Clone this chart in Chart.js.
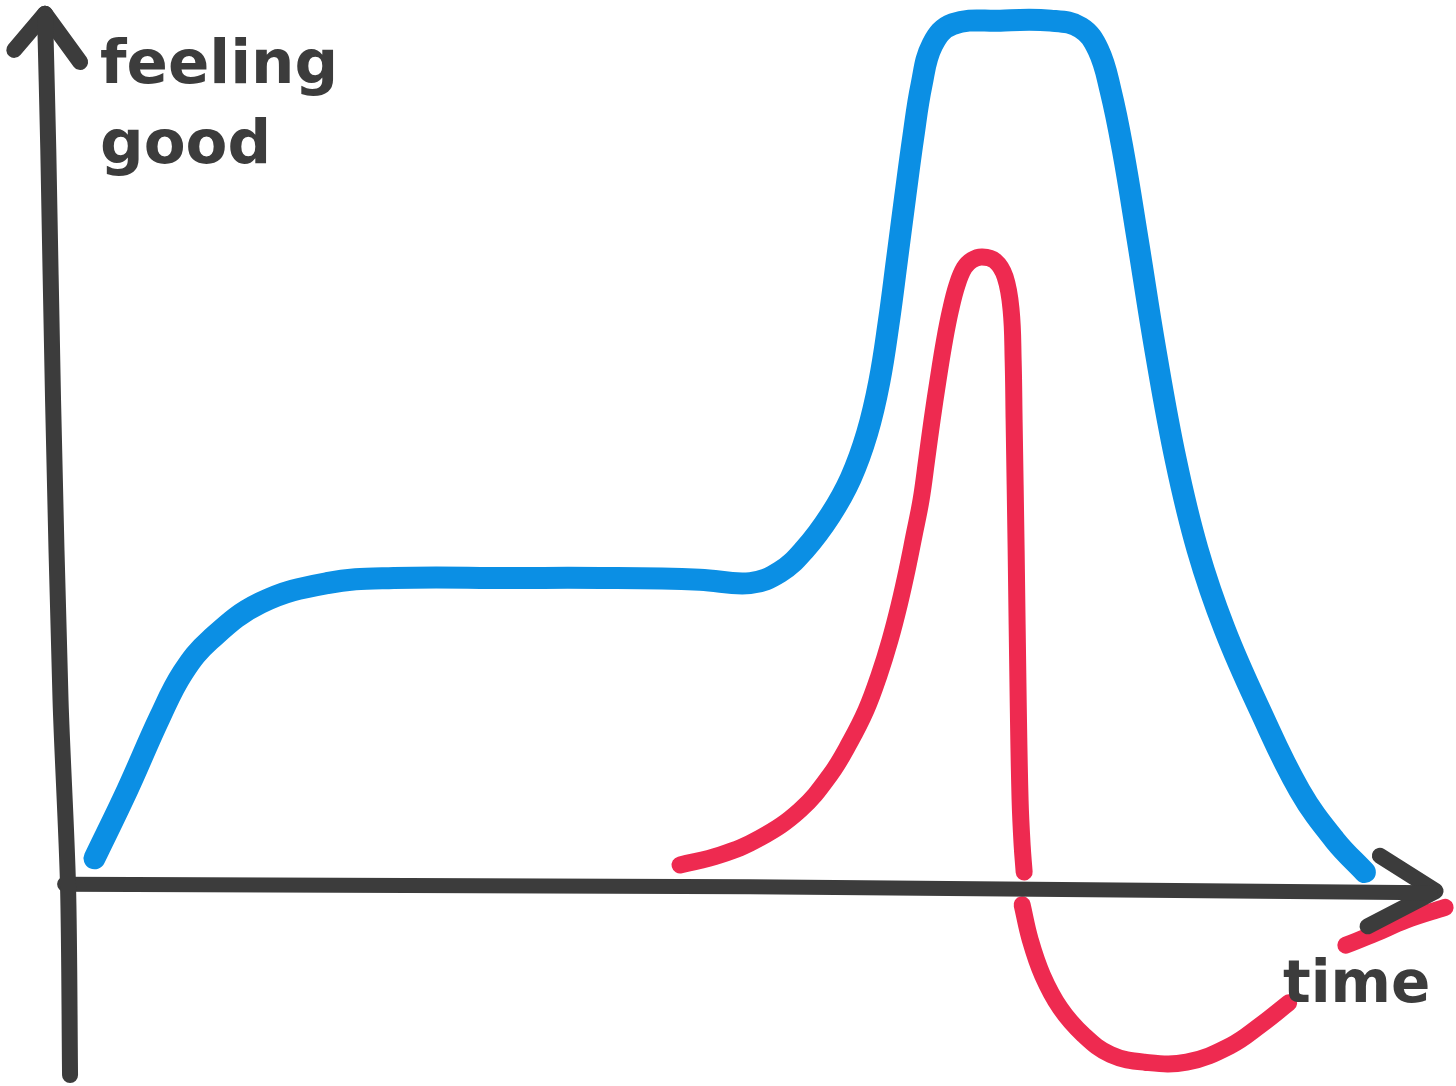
<!DOCTYPE html>
<html>
<head>
<meta charset="utf-8">
<title>feeling good over time</title>
<script src="https://cdn.jsdelivr.net/npm/chart.js@4.4.1/dist/chart.umd.min.js"></script>
<style>
  html, body { margin: 0; padding: 0; background: #ffffff; }
  #wrap { position: relative; width: 1456px; height: 1086px; }
</style>
</head>
<body>
<div id="wrap"><canvas id="sketch"></canvas></div>
<script>
// time runs 0..100 along the x axis, feeling good 0..100 up the y axis
const blueX = [1.8, 4.2, 6.6, 8.3, 10.3, 14.0, 18.9, 23.8, 32.4, 39.0, 46.3, 50.0, 52.2, 54.0, 55.9, 57.4, 58.6, 59.5, 60.2, 60.8, 61.4, 62.0, 62.6, 63.4, 64.9, 68.4, 72.1, 74.3, 75.6, 76.5, 77.4, 78.5, 79.8, 81.3, 82.9, 84.9, 87.5, 90.4, 93.0, 95.2];
const blueY = [3.1, 11.0, 19.5, 24.7, 28.5, 32.8, 35.1, 35.7, 35.7, 35.7, 35.5, 35.1, 36.4, 39.0, 43.0, 47.3, 52.5, 58.5, 65.5, 72.7, 80.0, 87.0, 93.0, 97.7, 100.1, 100.5, 100.5, 99.7, 97.1, 92.4, 85.5, 75.0, 62.2, 49.4, 39.0, 29.7, 20.3, 11.0, 5.2, 1.5];

// red line, null marks the breaks where the pen was lifted
const redX = [44.85, 47.79, 50.74, 53.68, 55.88, 57.35, 58.53, 59.49, 60.29, 60.96, 61.54, 62.06, 62.57, 62.98, 63.38, 63.82, 64.30, 64.74, 65.22, 65.74, 66.32, 67.06, 68.01, 68.75, 69.19, 69.34, 69.41, 69.56, 69.71, 69.85, 70.00, 70.15,
  70.15,
  70.0, 70.6, 71.5, 72.8, 74.5, 76.5, 79.0, 82.1, 85.3, 87.6, 89.6,
  91.5,
  93.8, 96.0, 98.2, 101.1];
const redY = [2.33, 3.49, 5.47, 8.72, 12.79, 16.63, 20.35, 24.42, 28.49, 32.56, 36.63, 40.70, 44.77, 49.42, 54.07, 58.72, 63.37, 66.86, 69.77, 71.74, 72.67, 73.02, 72.56, 70.70, 66.86, 61.05, 54.07, 38.95, 21.51, 9.88, 4.65, 1.51,
  null,
  -2.3, -6.4, -10.5, -14.3, -17.4, -19.7, -20.6, -20.6, -18.7, -16.2, -13.7,
  null,
  -7.0, -5.6, -4.1, -2.6];

// hand drawn axes
const timeAxisX = [-0.4, 50.0, 100.0];
const timeAxisY = [0.1, -0.2, -0.9];
const timeArrowX = [96.3, 100.4, 95.4];
const timeArrowY = [3.4, -0.7, -4.8];
const feelAxisX = [0.0, -0.15, -0.7, -1.25, -1.6, -1.84];
const feelAxisY = [-22.1, 0.0, 21.5, 56.4, 85.5, 101.3];
const feelArrowX = [-4.1, -1.84, 0.74];
const feelArrowY = [97.1, 101.3, 95.7];

const yLabelLines = ['feeling', 'good'];
const xLabel = 'time';

const INK = '#3c3c3c';
const BLUE = '#0b8fe4';
const RED = '#ee2a50';

const pts = (xs, ys) => xs.map((x, i) => ({ x, y: ys[i] }));

const stroke = (data, color, width, tension) => ({
  data,
  borderColor: color,
  borderWidth: width,
  borderCapStyle: 'round',
  borderJoinStyle: 'round',
  pointRadius: 0,
  tension,
  fill: false,
  spanGaps: false,
  clip: false,
});

const handLabels = {
  id: 'handLabels',
  afterDraw(chart) {
    const { ctx, chartArea } = chart;
    ctx.save();
    ctx.fillStyle = INK;
    ctx.font = 'bold 61px "DejaVu Sans"';
    ctx.textBaseline = 'alphabetic';
    ctx.textAlign = 'left';
    ctx.fillText(yLabelLines[0], chartArea.left + 100, chartArea.top + 83);
    ctx.fillText(yLabelLines[1], chartArea.left + 100, chartArea.top + 163);
    ctx.font = 'bold 58px "DejaVu Sans"';
    ctx.fillText(xLabel, chartArea.left + 1283, chartArea.top + 1002);
    ctx.restore();
  },
};

new Chart(document.getElementById('sketch'), {
  type: 'line',
  data: {
    datasets: [
      stroke(pts(feelAxisX, feelAxisY), INK, 16, 0.3),
      stroke(pts(feelArrowX, feelArrowY), INK, 16, 0),
      stroke(pts(timeAxisX, timeAxisY), INK, 15, 0),
      stroke(pts(timeArrowX, timeArrowY), INK, 16, 0),
      stroke(pts(blueX, blueY), BLUE, 22, 0.4),
      stroke(pts(redX, redY), RED, 17, 0.4),
    ],
  },
  options: {
    responsive: true,
    maintainAspectRatio: false,
    animation: false,
    events: [],
    layout: { padding: 0 },
    scales: {
      x: { type: 'linear', min: -5.15, max: 101.9, display: false },
      y: { type: 'linear', min: -23.37, max: 102.9, display: false },
    },
    plugins: {
      legend: { display: false },
      tooltip: { enabled: false },
      title: { display: false },
    },
  },
  plugins: [handLabels],
});
</script>
</body>
</html>
